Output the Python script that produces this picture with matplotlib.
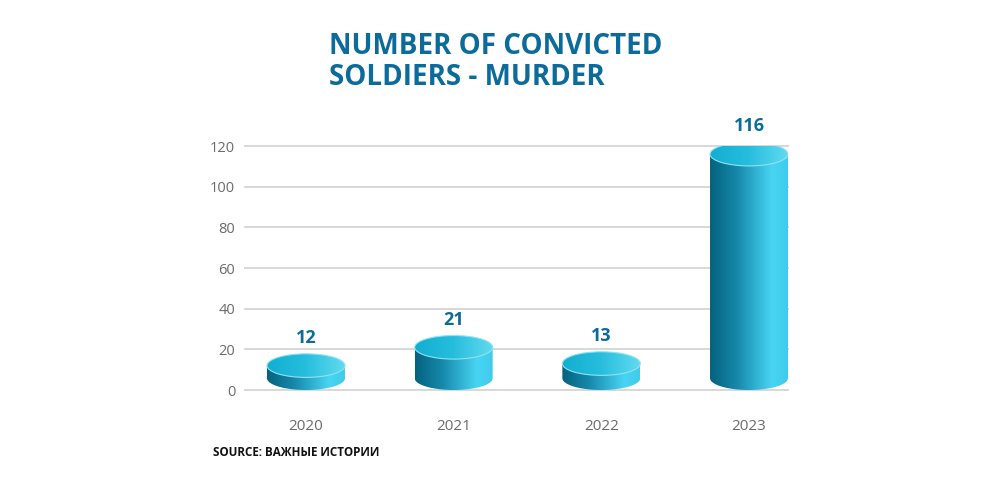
import numpy as np
import matplotlib
matplotlib.use("Agg")
import matplotlib.pyplot as plt
from matplotlib.patches import Ellipse, Polygon
from matplotlib.colors import LinearSegmentedColormap

plt.rcParams['font.family'] = ['Open Sans', 'DejaVu Sans']

years = ['2020', '2021', '2022', '2023']
convicted = [12, 21, 13, 116]
yticks = [0, 20, 40, 60, 80, 100, 120]

title = 'NUMBER OF CONVICTED\nSOLDIERS - MURDER'
source = 'SOURCE: ВАЖНЫЕ ИСТОРИИ'

blue = '#0b6b9b'
body_cmap = LinearSegmentedColormap.from_list(
    'body', [(0, '#05627f'), (0.35, '#1689ab'), (0.8, '#48d5f3'), (1, '#3fcbeb')])
top_cmap = LinearSegmentedColormap.from_list(
    'top', [(0, '#12aed0'), (0.5, '#27bedd'), (1, '#62daf0')])

fig = plt.figure(figsize=(10, 5), dpi=100)
ax = fig.add_axes([0.245, 0.22, 0.543, 0.488])
ax.set_xlim(-0.413, 3.264)
ax.set_ylim(0, 120)

hw = 0.264   # half width of a cylinder, data units
ry = 5.8     # vertical semi-axis of ellipses, data units

grad = np.linspace(0, 1, 256).reshape(1, -1)
for i, v in enumerate(convicted):
    yb = ry
    t = np.linspace(np.pi, 2 * np.pi, 60)
    arc = np.column_stack([i + hw * np.cos(t)[::-1] * -1, yb + ry * np.sin(t)])
    pts = np.vstack([[i - hw, v], arc, [i + hw, v]])
    body = Polygon(pts, closed=True, facecolor='none', edgecolor='none')
    ax.add_patch(body)
    im = ax.imshow(grad, cmap=body_cmap, aspect='auto',
                   extent=[i - hw, i + hw, 0, v + ry], zorder=2)
    im.set_clip_path(body)

    top = Ellipse((i, v), 2 * hw, 2 * ry, facecolor='none', edgecolor='none')
    ax.add_patch(top)
    im2 = ax.imshow(grad, cmap=top_cmap, aspect='auto',
                    extent=[i - hw, i + hw, v - ry, v + ry], zorder=3)
    im2.set_clip_path(top)
    rim = Ellipse((i, v), 2 * hw, 2 * ry, facecolor='none',
                  edgecolor='#8fe3f3', linewidth=0.8, zorder=4)
    ax.add_patch(rim)

    ax.annotate(str(v), (i, v + ry), xytext=(0, 5), textcoords='offset points',
                ha='center', va='bottom', fontsize=13, fontweight='bold',
                color=blue, annotation_clip=False)

ax.set_yticks(yticks)
ax.set_xticks(range(len(years)))
ax.set_xticklabels(years)
ax.tick_params(axis='both', length=0, labelsize=10.5, labelcolor='#6b6b6b')
ax.tick_params(axis='x', labelsize=11, pad=21)
ax.tick_params(axis='y', pad=7)
ax.grid(axis='y', color='#d8d8d8', linewidth=1.4, zorder=0)
for gl in ax.get_ygridlines():
    gl.set_clip_on(False)
ax.set_axisbelow(True)
for s in ax.spines.values():
    s.set_visible(False)

fig.text(0.329, 0.937, title, ha='left', va='top', fontsize=20,
         fontweight='bold', color=blue, linespacing=1.12)
fig.text(0.213, 0.096, source, ha='left', va='center', fontsize=8.4,
         fontweight='bold', color='#111111')

fig.savefig('out.png', dpi=100)
